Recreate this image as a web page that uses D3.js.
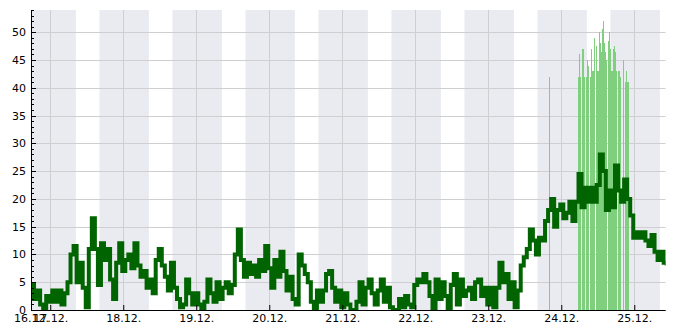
<!DOCTYPE html>
<html>
<head>
<meta charset="utf-8">
<script src="https://cdn.jsdelivr.net/npm/d3@7"></script>
<style>
  body { margin: 0; background: #fff; }
  svg { display: block; }
  .axis text { font-family: "DejaVu Sans", sans-serif; font-size: 11px; fill: #000; }
</style>
</head>
<body>
<div class="chart"></div>
<script>
// data: hourly wind speed from 16.12. 17:40, gusts as [hours since start, value]
const startTime = new Date(2012, 11, 16, 17, 40);
const endTime = new Date(2012, 11, 25, 10, 20);
const sunrise = [8, 25];
const sunset = [16, 10];

const wind = [
  4.5, 2, 3.5, 1, 0, 2.5, 1.5, 3.5, 1.5, 3.5, 1, 3, 5, 10, 11.5, 5, 8.5, 4, 0.5, 11,
  16.5, 11, 4.5, 12, 9, 11, 5.5, 2, 8.5, 12, 7, 9, 10, 7.5, 12, 8, 6, 7, 4, 5.5,
  3, 9, 11, 8, 6, 3.5, 8.5, 4, 2, 0.5, 1, 5.5, 3, 1, 3, 1, 0, 1.5, 5.5, 3,
  1.5, 5, 2, 4, 5, 3, 4.5, 10, 14.5, 9, 6, 8.5, 6.5, 8, 6, 9, 7, 11.5, 7.5, 4,
  9, 6, 10.5, 7, 3.5, 6, 2, 1, 10, 8, 6.5, 5, 1.5, 0, 3.5, 1.5, 3.5, 6.5, 7, 4,
  1.5, 3.5, 0.5, 3, 1, 0, 0, 1.5, 5, 1, 4, 5.5, 3, 1, 3.5, 5.5, 1.5, 4, 0.5, 0,
  0, 2, 0.5, 2.5, 1, 0.5, 4.5, 5.5, 5, 6.5, 5, 2.5, 0, 5.5, 2, 5, 2.5, 0, 4.5, 6.5,
  1, 5.5, 2.5, 3.5, 4, 2, 5, 5.5, 2.5, 4, 1, 4, 0.5, 4, 8.5, 5, 6.5, 2, 5, 0.5,
  3.5, 8, 9.5, 11, 14.5, 12.5, 10, 13, 12.5, 16, 18, 20, 15, 18, 19, 16.5, 17.5, 19.5, 16, 19.5,
  24.5, 18.5, 22, 19.5, 22, 19.5, 22.5, 28, 25, 18, 21.5, 18.5, 26, 21.5, 19.5, 23.5, 20, 17, 13, 14,
  13, 14, 12.5, 11.5, 13.5, 10.5, 9, 10.5, 8.5, 8
];

const gustStart = 179.8;   // hours since start
const gustStep = 1 / 3;    // 20 minutes
const gusts = [
  42, 46, 42, 0, 47, 47, 42, 0, 42, 45, 44, 0, 42, 47, 43, 43, 49, 0, 47.5, 43,
  43, 50, 48, 46.5, 50.5, 52, 48, 46.5, 45, 0, 48.5, 50, 47, 43, 43, 47, 47.5, 46.5, 43, 0,
  43, 43, 42, 0, 45, 0, 41, 43, 41, 41
];
const singleGust = [[170.3, 41.9]];

const yTicks = [0, 5, 10, 15, 20, 25, 30, 35, 40, 45, 50];
const yMax = 54;

const w = 685;
const h = 330;
const margin = { top: 10, right: 19.3, bottom: 20, left: 31 };

const hour = 3600 * 1000;
const windData = wind.map((v, i) => ({ t: new Date(+startTime + i * hour), v: v }));
const gustData = gusts.map((v, i) => ({ t: new Date(+startTime + (gustStart + i * gustStep) * hour), v: v }))
  .concat(singleGust.map(d => ({ t: new Date(+startTime + d[0] * hour), v: d[1] })))
  .filter(d => d.v > 0);

const x = d3.scaleTime()
  .domain([startTime, endTime])
  .range([margin.left, w - margin.right]);

const y = d3.scaleLinear()
  .domain([0, yMax])
  .range([h - margin.bottom, margin.top]);

const svg = d3.select(".chart")
  .append("svg")
  .attr("width", w)
  .attr("height", h);

svg.append("clipPath")
  .attr("id", "plot")
  .append("rect")
  .attr("x", x.range()[0])
  .attr("y", y.range()[1])
  .attr("width", x.range()[1] - x.range()[0])
  .attr("height", y.range()[0] - y.range()[1]);

// night bands
const days = d3.timeDay.range(d3.timeDay.floor(startTime), d3.timeDay.offset(endTime, 1));
const nights = days.map(d => {
  const a = new Date(d); a.setHours(sunset[0], sunset[1]);
  const b = d3.timeDay.offset(d, 1); b.setHours(sunrise[0], sunrise[1]);
  return [a, b];
});

const plot = svg.append("g").attr("clip-path", "url(#plot)");

plot.selectAll(".night")
  .data(nights)
  .enter()
  .append("rect")
  .attr("class", "night")
  .attr("x", d => x(d[0]))
  .attr("width", d => x(d[1]) - x(d[0]))
  .attr("y", y(yMax))
  .attr("height", y(0) - y(yMax))
  .attr("fill", "#eaebf0");

// grid
const dayTicks = d3.timeDay.range(d3.timeDay.ceil(startTime), endTime);

plot.selectAll(".hgrid")
  .data(yTicks.slice(1))
  .enter()
  .append("line")
  .attr("x1", x.range()[0])
  .attr("x2", x.range()[1])
  .attr("y1", d => Math.round(y(d)) + 0.5)
  .attr("y2", d => Math.round(y(d)) + 0.5)
  .attr("stroke", "#cfcfd2");

plot.selectAll(".vgrid")
  .data(dayTicks)
  .enter()
  .append("line")
  .attr("x1", d => Math.round(x(d)) + 0.5)
  .attr("x2", d => Math.round(x(d)) + 0.5)
  .attr("y1", y(yMax))
  .attr("y2", y(0))
  .attr("stroke", "#cfcfd2");

// gusts
const stepMs = gustStep * hour;
plot.selectAll(".gust")
  .data(gustData)
  .enter()
  .append("rect")
  .attr("class", "gust")
  .attr("x", d => Math.round(x(d.t)))
  .attr("width", d => Math.max(1, Math.round(x(new Date(+d.t + stepMs))) - Math.round(x(d.t))))
  .attr("y", d => y(d.v))
  .attr("height", d => y(0) - y(d.v))
  .attr("shape-rendering", "crispEdges")
  .attr("fill", "#80cf7f");

// wind line
const line = d3.line()
  .x(d => x(d.t))
  .y(d => y(d.v))
  .curve(d3.curveStepAfter);

plot.append("path")
  .datum(windData)
  .attr("d", line)
  .attr("fill", "none")
  .attr("stroke", "#006400")
  .attr("stroke-width", 4);

// AXIS
const yAxis = d3.axisLeft(y)
  .tickValues(yTicks)
  .tickSize(0)
  .tickPadding(5);

const gy = svg.append("g")
  .attr("class", "axis")
  .attr("transform", "translate(" + margin.left + ",0)")
  .call(yAxis);
gy.select(".domain").remove();

svg.selectAll(".minor")
  .data(d3.range(0, yMax + 1))
  .enter()
  .append("line")
  .attr("x1", margin.left)
  .attr("x2", d => margin.left + (d % 5 === 0 ? 5 : 3))
  .attr("y1", d => Math.round(y(d)) + 0.5)
  .attr("y2", d => Math.round(y(d)) + 0.5)
  .attr("stroke", "#000");

const xAxis = d3.axisBottom(x)
  .tickValues([startTime].concat(dayTicks))
  .tickFormat(d3.timeFormat("%d.%m."))
  .tickSize(-5)
  .tickSizeOuter(0)
  .tickPadding(4);

const gx = svg.append("g")
  .attr("class", "axis")
  .attr("transform", "translate(0," + (h - margin.bottom) + ")")
  .call(xAxis);
gx.select(".domain").remove();

svg.append("line")
  .attr("x1", margin.left)
  .attr("x2", x.range()[1])
  .attr("y1", y(0) + 0.5)
  .attr("y2", y(0) + 0.5)
  .attr("stroke", "#000");

svg.append("line")
  .attr("x1", margin.left + 0.5)
  .attr("x2", margin.left + 0.5)
  .attr("y1", y(yMax))
  .attr("y2", y(0) + 1)
  .attr("stroke", "#000");
</script>
</body>
</html>
